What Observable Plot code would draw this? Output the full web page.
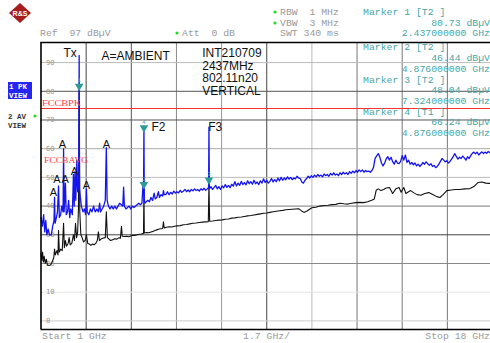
<!DOCTYPE html>
<html><head><meta charset="utf-8">
<script src="https://cdn.jsdelivr.net/npm/d3@7"></script>
<script src="https://cdn.jsdelivr.net/npm/@observablehq/plot@0.6"></script>
<style>body{margin:0;background:#fff;overflow:hidden}#c{width:490px;height:343px}</style>
</head><body><div id="c"></div>
<script>
// Trace 1 (PK, blue): [GHz, dBµV]
const peakTrace = [
[1.00,36],[1.05,33],[1.10,37],[1.14,31],[1.18,35],[1.22,30],[1.27,32],[1.32,30],[1.39,30],[1.44,33],[1.49,35],[1.51,43],[1.53,34],
[1.58,36],[1.62,38],[1.66,47],[1.69,36],[1.74,37],[1.78,40],[1.83,38],[1.85,60],[1.87,38],[1.92,48],[1.95,37],[2.00,38],[2.04,42],
[2.08,36],[2.12,39],[2.18,37],[2.22,51],[2.25,40],[2.28,52],[2.31,42],[2.35,56],[2.38,45],[2.42,47],[2.437,92.5],[2.45,46],[2.47,44],
[2.52,40],[2.58,38],[2.63,39],[2.68,37],[2.71,46],[2.74,38],[2.80,37],[2.86,39],[2.92,38],[2.98,40],[3.04,38],[3.10,39],[3.16,38],
[3.21,41],[3.24,38],[3.30,39],[3.36,40],[3.42,42],[3.46,60.4],[3.49,42],[3.54,40],[3.60,39],[3.66,40],[3.72,39],[3.78,40],[3.84,39],
[3.90,40],[3.96,41],[4.08,40],[4.11,46.6],[4.14,40],[4.20,39],[4.26,39.5],[4.32,40],[4.38,39],[4.44,40],[4.50,39.5],[4.56,40],
[4.62,40.5],[4.68,41],[4.74,40.5],[4.80,41],[4.84,47],[4.86,44],[4.876,67],[4.89,42],[4.92,41],[4.96,41.5],[5.02,42],[5.08,41.5],
[5.14,43],[5.20,42],[5.26,44.5],[5.30,42.5],[5.36,43],[5.42,45],[5.46,43],[5.52,44],[5.58,43.5],[5.61,45.4],[5.64,44],[5.70,44],
[5.76,45],[5.82,44],[5.88,44.8],[5.94,44.2],[6.00,45.2],[6.06,44.5],[6.12,45],[6.18,44.6],[6.24,45.5],[6.30,44.8],[6.36,45.2],
[6.42,45.8],[6.48,45],[6.54,45.6],[6.60,45],[6.66,45.8],[6.72,45.3],[6.78,46],[6.84,45.4],[6.90,45.8],[6.96,45.2],[7.02,46],
[7.08,45.6],[7.14,46.2],[7.20,45.5],[7.26,46],[7.31,46.5],[7.324,67.5],[7.34,46],[7.40,46.8],[7.46,45.8],[7.52,46.5],[7.58,47.2],
[7.64,46],[7.70,46.8],[7.76,45.8],[7.82,47],[7.88,46.4],[7.94,47.5],[8.00,46.5],[8.06,47.2],[8.12,46.4],[8.18,47.6],[8.24,47],
[8.30,48.5],[8.36,47],[8.42,48],[8.48,47.2],[8.54,48.6],[8.60,47.5],[8.66,48.2],[8.72,47.4],[8.78,48.8],[8.84,47.8],[8.90,48.5],
[8.96,47.6],[9.02,49],[9.08,47.8],[9.14,48.4],[9.20,47.5],[9.26,48.8],[9.32,48],[9.38,49.5],[9.44,48.2],[9.50,49],[9.56,48],
[9.62,48.6],[9.68,49.6],[9.74,48.4],[9.80,49.2],[9.86,48.5],[9.92,49.8],[9.98,48.8],[10.04,50],[10.10,49],[10.16,49.8],[10.22,49.2],
[10.28,50.2],[10.34,49.4],[10.40,50],[10.46,49.2],[10.52,49.8],[10.58,49.5],[10.64,50.4],[10.70,49.8],[10.76,49.6],[10.82,48.4],
[10.88,48],[10.94,49],[11.00,49.6],[11.06,50.4],[11.12,49.8],[11.18,50.6],[11.24,50],[11.30,50.8],[11.36,50.2],[11.42,51],[11.48,50.4],
[11.54,50.8],[11.60,50.2],[11.66,51.2],[11.72,50.6],[11.78,51],[11.84,50.4],[11.90,51.4],[11.96,50.8],[12.02,51.6],[12.08,50.8],
[12.14,51.2],[12.20,50.6],[12.26,51.6],[12.32,51],[12.38,51.8],[12.44,51.2],[12.50,51.6],[12.56,51],[12.62,52],[12.68,51.4],[12.74,52.2],
[12.80,51.6],[12.86,52.4],[12.92,51.8],[12.98,52.6],[13.04,52],[13.10,52.6],[13.16,51.8],[13.22,52.4],[13.28,52],[13.34,52.2],
[13.40,51.8],[13.46,52.4],[13.52,53.5],[13.58,56.6],[13.64,57.5],[13.70,58.3],[13.76,57],[13.82,55],[13.88,54],[13.94,55],[14.00,56.5],
[14.06,57.2],[14.12,56],[14.18,57],[14.24,55.5],[14.30,54.6],[14.36,56],[14.42,55],[14.48,54.8],[14.54,55.6],[14.60,57.6],[14.66,56],
[14.72,57.8],[14.78,55.2],[14.84,56],[14.90,54.6],[14.96,55.2],[15.02,54.4],[15.08,55],[15.14,54],[15.20,54.6],[15.26,53.8],[15.32,54.4],
[15.38,55.2],[15.44,54.6],[15.50,55.4],[15.56,54.8],[15.62,54.2],[15.68,54.8],[15.74,53.8],[15.80,54.2],[15.86,53.4],[15.92,53.8],
[15.98,54.6],[16.04,55.6],[16.10,56.6],[16.16,56],[16.22,55.4],[16.28,55.8],[16.34,55],[16.40,55.6],[16.46,56.4],[16.52,57.2],[16.58,58.3],
[16.64,57.2],[16.70,56.4],[16.76,57],[16.82,56.6],[16.88,57.4],[16.94,56.8],[17.00,56],[17.06,57.2],[17.12,56.6],[17.18,57.6],[17.24,58.4],
[17.30,58.8],[17.36,58.2],[17.42,58.8],[17.48,57.8],[17.54,58.4],[17.60,58.9],[17.66,58.3],[17.72,58.8],[17.78,58.4],[17.84,59],
[17.90,58.6],[17.96,58.8],[18.00,58.7]
];
// Trace 2 (AV, black): [GHz, dBµV]
const avgTrace = [
[1.00,23.5],[1.03,21],[1.06,24],[1.09,20.5],[1.12,22.5],[1.16,20],[1.20,21.5],[1.24,19.5],[1.30,19.3],[1.36,19.5],[1.42,20.5],[1.48,22],
[1.51,25],[1.54,23],[1.60,24.5],[1.64,23],[1.66,31.5],[1.69,24],[1.74,25],[1.80,24.5],[1.85,34],[1.88,25.5],[1.92,28],[1.96,26],
[2.02,27],[2.06,29],[2.10,26.5],[2.16,27],[2.22,30],[2.26,28],[2.30,34],[2.34,29],[2.38,31],[2.41,39],[2.437,80.73],[2.46,38],
[2.50,30],[2.55,29],[2.60,27.5],[2.66,28],[2.71,30],[2.76,27],[2.82,26.8],[2.88,26.3],[2.94,26.8],[3.00,26.5],[3.06,27],[3.12,28],
[3.16,31],[3.20,28],[3.26,28.5],[3.32,28.8],[3.42,29],[3.46,38],[3.50,29],[3.56,28.5],[3.62,28],[3.70,28.3],[3.78,28.6],[3.86,28.5],
[3.94,29],[3.99,28.8],[4.03,33],[4.06,29.5],[4.14,29.4],[4.22,29.5],[4.30,29.3],[4.38,29.6],[4.46,29.8],[4.54,29.8],[4.62,30],
[4.70,30.2],[4.78,30.3],[4.86,30.5],[4.876,46.44],[4.89,30.6],[4.98,30.8],[5.06,30.7],[5.14,31],[5.22,31.2],[5.30,31.5],[5.38,31.8],
[5.45,32],[5.58,32.2],[5.61,34.5],[5.64,32.4],[5.72,32.6],[5.82,32.8],[5.92,32.7],[6.02,33],[6.12,33.1],[6.24,33.2],[6.36,33.5],
[6.48,33.6],[6.60,33.8],[6.72,34],[6.84,34.1],[6.96,34.3],[7.08,34.4],[7.20,34.5],[7.30,34.6],[7.324,48.04],[7.35,34.7],[7.46,34.8],
[7.58,35],[7.70,35.1],[7.82,35.2],[7.94,35.4],[8.06,35.5],[8.18,35.8],[8.30,35.9],[8.42,36.1],[8.54,36.2],[8.66,36.4],[8.78,36.6],
[8.90,36.7],[9.02,36.9],[9.14,37.1],[9.26,37.3],[9.38,37.5],[9.50,37.6],[9.62,37.8],[9.74,38],[9.86,38.2],[9.98,38.4],[10.10,38.5],
[10.22,38.7],[10.34,38.8],[10.46,38.9],[10.58,39],[10.70,39.1],[10.80,38.4],[10.90,37.8],[11.00,38.2],[11.10,38.8],[11.20,39.4],
[11.35,39.6],[11.50,40],[11.65,40.2],[11.80,40.3],[11.95,40.5],[12.10,40.6],[12.25,41],[12.40,40.8],[12.55,40.7],[12.70,41],[12.85,41.2],
[13.00,41.3],[13.15,41.2],[13.30,41.5],[13.45,42],[13.55,42.5],[13.62,45.5],[13.70,46],[13.80,45.4],[13.90,45.8],[14.00,46.3],
[14.12,46.5],[14.24,44.4],[14.36,46],[14.48,46.5],[14.56,44.8],[14.66,46.5],[14.74,44.4],[14.84,45],[14.92,45.4],[15.04,44.6],
[15.16,44],[15.30,43.8],[15.45,44.4],[15.60,44.7],[15.75,44],[15.90,43.3],[16.02,43],[16.14,44],[16.28,45.4],[16.45,45.6],[16.60,45.8],
[16.77,45.8],[16.95,46],[17.15,46.1],[17.30,46.8],[17.45,48.2],[17.60,48.4],[17.75,48],[17.90,47.9],[18.00,47.9]
];
const xStart = 1, xStop = 18;               // GHz
const refLevel = 97, dbPerDiv = 10;         // dBµV
const xGrid = [2.7,4.4,6.1,7.8,9.5,11.2,12.9,14.6,16.3];
const yTicks = [0,10,20,30,40,50,60,70,80,90];
const fccPeakLimit = 74;
const markerNames = ["1","4","2","3"];
const markerFreq = [2.437,4.876,4.876,7.324];
const markerLevel = [80.73,66.24,46.44,48.04];
const markerTrace = ["T2","T1","T2","T2"];
const ambientFreq = [1.47,1.60,1.91,2.26,2.71,1.81,3.46];
const ambientLevel = [44.7,49.4,49.4,52,47.2,61.5,61.5];

const xShade = ["#444","#555","#888","#999","#444","#bbb","#777","#777","#777"];
const yShade = ["#ccc","#e4e4e4","#888","#444","#777","#bbb","#aaa","#555","#555","#bbb"];
const teal = "#4aa6a6";
const grey = "#9a9a9a";

const plot = Plot.plot({
  width: 490, height: 343,
  marginLeft: 40.5, marginRight: 0, marginTop: 42, marginBottom: 14,
  x: {domain: [xStart, xStop], range: [40.5, 492], axis: null},
  y: {domain: [refLevel - 10*dbPerDiv, refLevel], range: [329, 42], axis: null},
  color: {type: "identity"},
  style: {background: "#fff", fontFamily: "Liberation Sans, Arial, sans-serif"},
  marks: [
    Plot.ruleX(xGrid, {stroke: (d,i) => xShade[i], strokeWidth: 1}),
    Plot.ruleY(yTicks, {stroke: (d,i) => yShade[i], strokeWidth: 1}),
    Plot.text(yTicks, {x: xStart, y: d => d, text: d => `${d}`, dx: 5, textAnchor: "start",
      fontSize: 7, fill: "#999", fontFamily: "DejaVu Sans Mono, monospace"}),
    Plot.ruleY([fccPeakLimit], {stroke: "#ff3030", strokeWidth: 1.2}),
    Plot.line(avgTrace, {x: d => d[0], y: d => d[1], stroke: "#111", strokeWidth: 1.1}),
    Plot.line(peakTrace, {x: d => d[0], y: d => d[1], stroke: "#1414f0", strokeWidth: 1.3}),
    Plot.dot(markerNames, {x: (d,i) => markerFreq[i], y: (d,i) => markerLevel[i], symbol: "triangle",
      rotate: 180, r: 3.2, dy: -3, fill: "#2f9a9a", stroke: "none"}),
    Plot.text(markerNames, {x: (d,i) => markerFreq[i], y: (d,i) => markerLevel[i], text: d => d,
      dy: -9, fontSize: 6, fill: teal}),
    Plot.text(ambientFreq, {x: d => d, y: (d,i) => ambientLevel[i], text: () => "A", fontSize: 11, fill: "#111"}),
    Plot.text(["Tx"], {x: 2.1, y: 93.2, text: d => d, fontSize: 12, fill: "#111"}),
    Plot.text(["A=AMBIENT"], {x: 4.56, y: 92.1, text: d => d, fontSize: 12, fill: "#111"}),
    Plot.text(["INT210709\n2437MHz\n802.11n20\nVERTICAL"], {x: 7.07, y: 95.3, text: d => d, fontSize: 12,
      lineHeight: 1.08, textAnchor: "start", lineAnchor: "top", fill: "#111"}),
    Plot.text(["F2"], {x: 5.42, y: 67.4, text: d => d, fontSize: 12, fill: "#111"}),
    Plot.text(["F3"], {x: 7.56, y: 67.4, text: d => d, fontSize: 12, fill: "#111"}),
    Plot.ruleX([xStart], {stroke: "#000", strokeWidth: 1.6}),
    Plot.ruleY([refLevel - 10*dbPerDiv, refLevel], {stroke: "#000", strokeWidth: 1.6})
  ]
});
document.getElementById("c").appendChild(plot);

// instrument header / side texts
const svg = d3.select(plot);
const mono = "Liberation Mono, DejaVu Sans Mono, monospace";
const hdr = [
  ["Ref  97 dBµV", 40, 36, "start", grey],
  ["Att  0 dB", 182, 36, "start", grey],
  ["RBW  1 MHz", 280, 15, "start", grey],
  ["VBW  3 MHz", 280, 26, "start", grey],
  ["SWT 340 ms", 280, 36, "start", grey],
  ["Marker 1 [T2 ]", 363, 15, "start", teal],
  ["80.73 dBµV", 490, 26, "end", teal],
  ["2.437000000 GHz", 490, 36, "end", teal],
  ["Marker 2 [T2 ]", 363, 50, "start", teal],
  ["46.44 dBµV", 490, 61, "end", teal],
  ["4.876000000 GHz", 490, 72, "end", teal],
  ["Marker 3 [T2 ]", 363, 83, "start", teal],
  ["48.04 dBµV", 490, 93, "end", teal],
  ["7.324000000 GHz", 490, 104, "end", teal],
  ["Marker 4 [T1 ]", 363, 115, "start", teal],
  ["66.24 dBµV", 490, 125, "end", teal],
  ["4.876000000 GHz", 490, 136, "end", teal],
  ["Start 1 GHz", 42, 339, "start", grey],
  ["1.7 GHz/", 243, 339, "start", grey],
  ["Stop 18 GHz", 490, 339, "end", grey]
];
svg.selectAll("text.hdr").data(hdr).join("text").attr("class", "hdr")
  .attr("x", d => d[1]).attr("y", d => d[2]).attr("text-anchor", d => d[3])
  .attr("fill", d => d[4]).attr("font-family", mono).attr("font-size", 9.8).text(d => d[0]);
svg.append("rect").attr("x", 8).attr("y", 82).attr("width", 24).attr("height", 17).attr("fill", "#2626f0");
const side = [["1 PK", 9, 89, "#fff"], ["VIEW", 9, 97.5, "#fff"], ["2 AV", 8, 119, "#333"], ["VIEW", 8, 128, "#333"]];
svg.selectAll("text.side").data(side).join("text").attr("class", "side")
  .attr("x", d => d[1]).attr("y", d => d[2]).attr("fill", d => d[3]).attr("font-family", mono)
  .attr("text-anchor", "start").attr("font-size", 7.5).attr("font-weight", "bold").text(d => d[0]);
[[177, 33], [275, 12], [275, 23], [35, 116]].forEach(([x, y]) =>
  svg.append("circle").attr("cx", x).attr("cy", y).attr("r", 1.6).attr("fill", "#22dd22"));
svg.append("text").attr("x", 42).attr("y", 106).attr("fill", "#ff4040").attr("font-size", 8)
  .attr("text-anchor", "start").attr("textLength", 39).attr("lengthAdjust", "spacingAndGlyphs")
  .attr("font-family", "Liberation Serif, serif").text("FCCBPK");
svg.append("text").attr("x", 44).attr("y", 163).attr("fill", "#ff4040").attr("font-size", 8)
  .attr("text-anchor", "start").attr("textLength", 44).attr("lengthAdjust", "spacingAndGlyphs")
  .attr("font-family", "Liberation Serif, serif").text("FCCBAVG");
// R&S logo
const g = svg.append("g");
g.append("polygon").attr("points", "20,3 31,13 20,23 9,13").attr("fill", "#a51d1d");
g.append("text").attr("x", 20).attr("y", 15.5).attr("text-anchor", "middle").attr("fill", "#fff")
  .attr("font-size", 7).attr("font-weight", "bold").attr("font-family", "Liberation Sans, sans-serif").text("R&S");
</script>
</body></html>
